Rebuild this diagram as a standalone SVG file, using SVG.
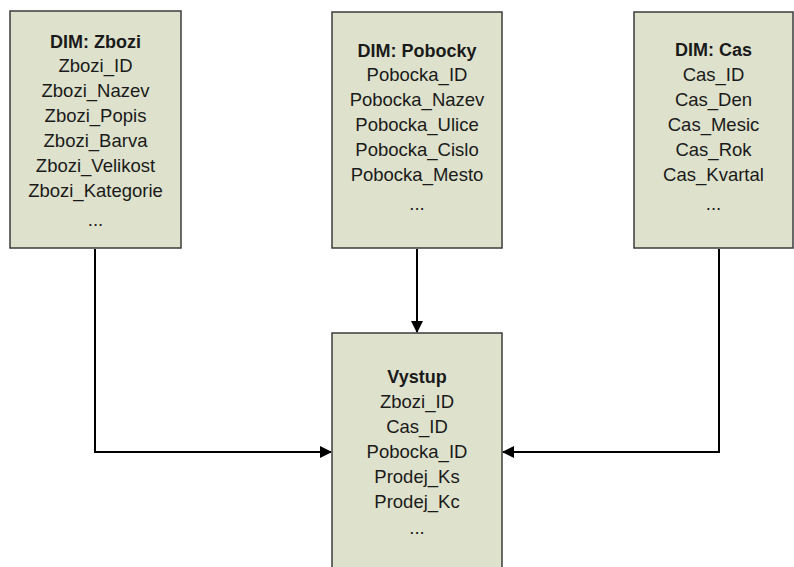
<svg xmlns="http://www.w3.org/2000/svg" width="794" height="567" viewBox="0 0 794 567">
<defs>
<style>
.box{fill:#dee2cc;stroke:#3c3c3c;stroke-width:1.5}
text{font-family:"Liberation Sans",Arial,sans-serif;font-size:18.5px;fill:#1a1a1a;text-anchor:middle}
.t{font-weight:bold;font-size:18px}
.c{fill:none;stroke:#000;stroke-width:2}
</style>
<marker id="ah" markerWidth="12" markerHeight="12" refX="11" refY="6" orient="auto" markerUnits="userSpaceOnUse">
<path d="M0,0 L12,6 L0,12 Z" fill="#000"/>
</marker>
</defs>
<rect width="794" height="567" fill="#fff"/>
<g id="connectors">
<path class="c" d="M95,249 V452 H331" marker-end="url(#ah)"/>
<path class="c" d="M417,249 V332" marker-end="url(#ah)"/>
<path class="c" d="M719,249 V452 H503" marker-end="url(#ah)"/>
</g>
<g id="zbozi">
<rect class="box" x="10" y="11" width="171" height="237"/>
<text class="t" x="95.5" y="48">DIM: Zbozi</text>
<text x="95.5" y="72">Zbozi_ID</text>
<text x="95.5" y="97">Zbozi_Nazev</text>
<text x="95.5" y="122">Zbozi_Popis</text>
<text x="95.5" y="147">Zbozi_Barva</text>
<text x="95.5" y="172">Zbozi_Velikost</text>
<text x="95.5" y="197">Zbozi_Kategorie</text>
<text x="95.5" y="226">...</text>
</g>
<g id="pobocky">
<rect class="box" x="332" y="12" width="170" height="236"/>
<text class="t" x="417" y="57">DIM: Pobocky</text>
<text x="417" y="81">Pobocka_ID</text>
<text x="417" y="106">Pobocka_Nazev</text>
<text x="417" y="131">Pobocka_Ulice</text>
<text x="417" y="156">Pobocka_Cislo</text>
<text x="417" y="181">Pobocka_Mesto</text>
<text x="417" y="210">...</text>
</g>
<g id="cas">
<rect class="box" x="634" y="12" width="159" height="236"/>
<text class="t" x="713.5" y="56">DIM: Cas</text>
<text x="713.5" y="81">Cas_ID</text>
<text x="713.5" y="106">Cas_Den</text>
<text x="713.5" y="131">Cas_Mesic</text>
<text x="713.5" y="156">Cas_Rok</text>
<text x="713.5" y="181">Cas_Kvartal</text>
<text x="713.5" y="210">...</text>
</g>
<g id="vystup">
<rect class="box" x="332" y="333" width="170" height="250"/>
<text class="t" x="417" y="383">Vystup</text>
<text x="417" y="408">Zbozi_ID</text>
<text x="417" y="433">Cas_ID</text>
<text x="417" y="458">Pobocka_ID</text>
<text x="417" y="483">Prodej_Ks</text>
<text x="417" y="508">Prodej_Kc</text>
<text x="417" y="534">...</text>
</g>
</svg>
